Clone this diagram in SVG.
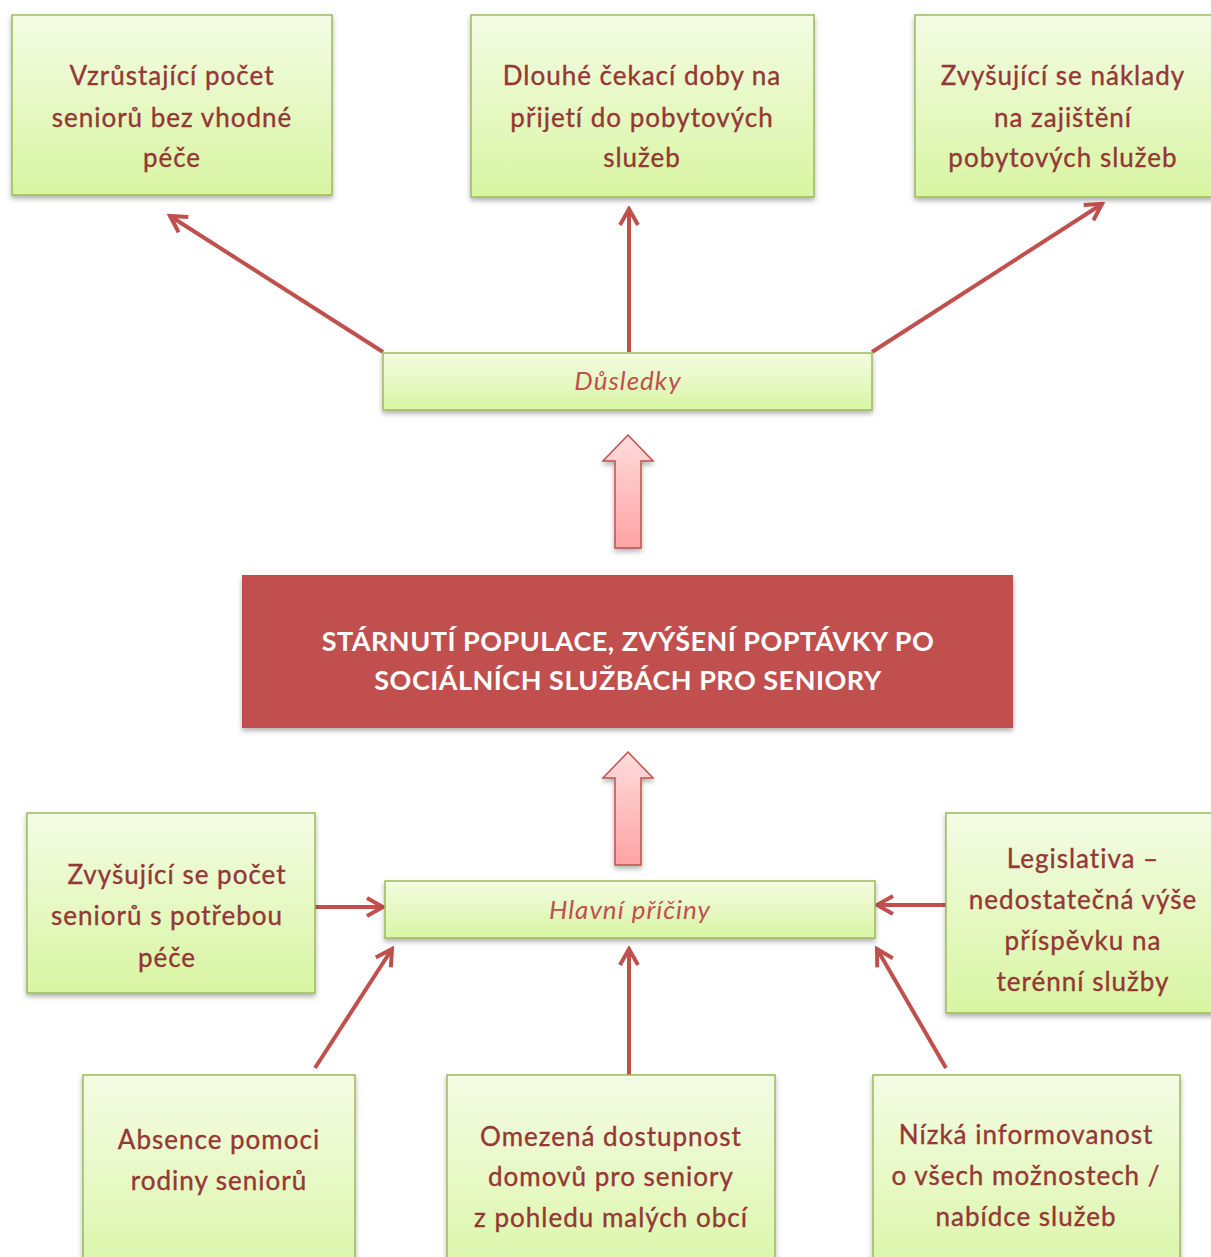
<svg xmlns="http://www.w3.org/2000/svg" width="1211" height="1257" viewBox="0 0 1211 1257">
<style>
.box{fill:url(#g);stroke:#9bbb59;stroke-width:1.5;filter:url(#sh)}
.t{font-family:Lato,"Open Sans","Liberation Sans",sans-serif;font-size:26px;letter-spacing:1px;fill:#953735;stroke:#953735;stroke-width:0.35;text-anchor:middle}
.it{font-family:Lato,"Open Sans","Liberation Sans",sans-serif;font-size:26px;letter-spacing:1px;fill:#c0504d;font-style:italic;text-anchor:middle}
.c{font-family:Lato,"Open Sans","Liberation Sans",sans-serif;font-size:27px;letter-spacing:0.5px;fill:#ffffff;font-weight:bold;text-anchor:middle}
.ln{stroke:#c0504d;stroke-width:4;fill:none;marker-end:url(#ah)}
.blk{fill:url(#rg);stroke:#c0504d;stroke-width:1.5;filter:url(#sh)}
</style>
<defs>
<linearGradient id="g" x1="0" y1="0" x2="0" y2="1">
<stop offset="0" stop-color="#f4fce4"/>
<stop offset="1" stop-color="#d8f5a2"/>
</linearGradient>
<linearGradient id="rg" x1="0" y1="0" x2="0" y2="1">
<stop offset="0" stop-color="#ffdcdc"/>
<stop offset="1" stop-color="#ffa3a3"/>
</linearGradient>
<filter id="sh" x="-10%" y="-10%" width="120%" height="130%">
<feDropShadow dx="0" dy="3" stdDeviation="2.5" flood-color="#000" flood-opacity="0.3"/>
</filter>
<marker id="ah" markerUnits="userSpaceOnUse" viewBox="0 0 24 24" markerWidth="24" markerHeight="24" refX="21" refY="12" orient="auto">
<path d="M5,3 L21,12 L5,21" fill="none" stroke="#c0504d" stroke-width="4" stroke-linejoin="miter"/>
</marker>
</defs>

<g id="connectors">
<line class="ln" x1="383" y1="352" x2="170" y2="216"/>
<line class="ln" x1="629" y1="352" x2="629" y2="209"/>
<line class="ln" x1="872" y1="352" x2="1102" y2="204"/>
<line class="ln" x1="315" y1="907" x2="383" y2="907"/>
<line class="ln" x1="946" y1="905" x2="877" y2="905"/>
<line class="ln" x1="315" y1="1068" x2="392" y2="949"/>
<line class="ln" x1="629" y1="1075" x2="629" y2="949"/>
<line class="ln" x1="946" y1="1068" x2="877" y2="949"/>
</g>

<g id="arrow-up-1">
<path class="blk" d="M628,435 L653,461 L641,461 L641,548 L615,548 L615,461 L603,461 Z"/>
</g>
<g id="arrow-up-2">
<path class="blk" d="M628,752 L653,778 L641,778 L641,865 L615,865 L615,778 L603,778 Z"/>
</g>

<g id="n1">
<rect class="box" x="12" y="15" width="320" height="180"/>
<text class="t" x="172" y="85">Vzrůstající počet</text>
<text class="t" x="172" y="127">seniorů bez vhodné</text>
<text class="t" x="172" y="167">péče</text>
</g>
<g id="n2">
<rect class="box" x="471" y="15" width="343" height="182"/>
<text class="t" x="642" y="85">Dlouhé čekací doby na</text>
<text class="t" x="642" y="127">přijetí do pobytových</text>
<text class="t" x="642" y="167">služeb</text>
</g>
<g id="n3">
<rect class="box" x="915" y="15" width="300" height="182"/>
<text class="t" x="1063" y="85">Zvyšující se náklady</text>
<text class="t" x="1063" y="127">na zajištění</text>
<text class="t" x="1063" y="167">pobytových služeb</text>
</g>
<g id="dusledky">
<rect class="box" x="383" y="353" width="489" height="57"/>
<text class="it" x="628" y="390">Důsledky</text>
</g>
<g id="center">
<rect x="242" y="575" width="771" height="153" fill="#c0504d" filter="url(#sh)"/>
<text class="c" x="628" y="651">STÁRNUTÍ POPULACE, ZVÝŠENÍ POPTÁVKY PO</text>
<text class="c" x="628" y="690">SOCIÁLNÍCH SLUŽBÁCH PRO SENIORY</text>
</g>
<g id="hlavni">
<rect class="box" x="385" y="881" width="490" height="57"/>
<text class="it" x="630" y="919">Hlavní příčiny</text>
</g>
<g id="c1">
<rect class="box" x="27" y="813" width="288" height="180"/>
<text class="t" x="177" y="884">Zvyšující se počet</text>
<text class="t" x="167" y="925">seniorů s potřebou</text>
<text class="t" x="167" y="967">péče</text>
</g>
<g id="c2">
<rect class="box" x="946" y="813" width="270" height="200"/>
<text class="t" x="1083" y="868">Legislativa –</text>
<text class="t" x="1083" y="909">nedostatečná výše</text>
<text class="t" x="1083" y="950">příspěvku na</text>
<text class="t" x="1083" y="991">terénní služby</text>
</g>
<g id="c3">
<rect class="box" x="83" y="1075" width="272" height="220"/>
<text class="t" x="219" y="1149">Absence pomoci</text>
<text class="t" x="219" y="1190">rodiny seniorů</text>
</g>
<g id="c4">
<rect class="box" x="447" y="1075" width="328" height="220"/>
<text class="t" x="611" y="1146">Omezená dostupnost</text>
<text class="t" x="611" y="1186">domovů pro seniory</text>
<text class="t" x="611" y="1227">z pohledu malých obcí</text>
</g>
<g id="c5">
<rect class="box" x="873" y="1075" width="307" height="220"/>
<text class="t" x="1026" y="1144">Nízká informovanost</text>
<text class="t" x="1026" y="1185">o všech možnostech /</text>
<text class="t" x="1026" y="1226">nabídce služeb</text>
</g>
</svg>
